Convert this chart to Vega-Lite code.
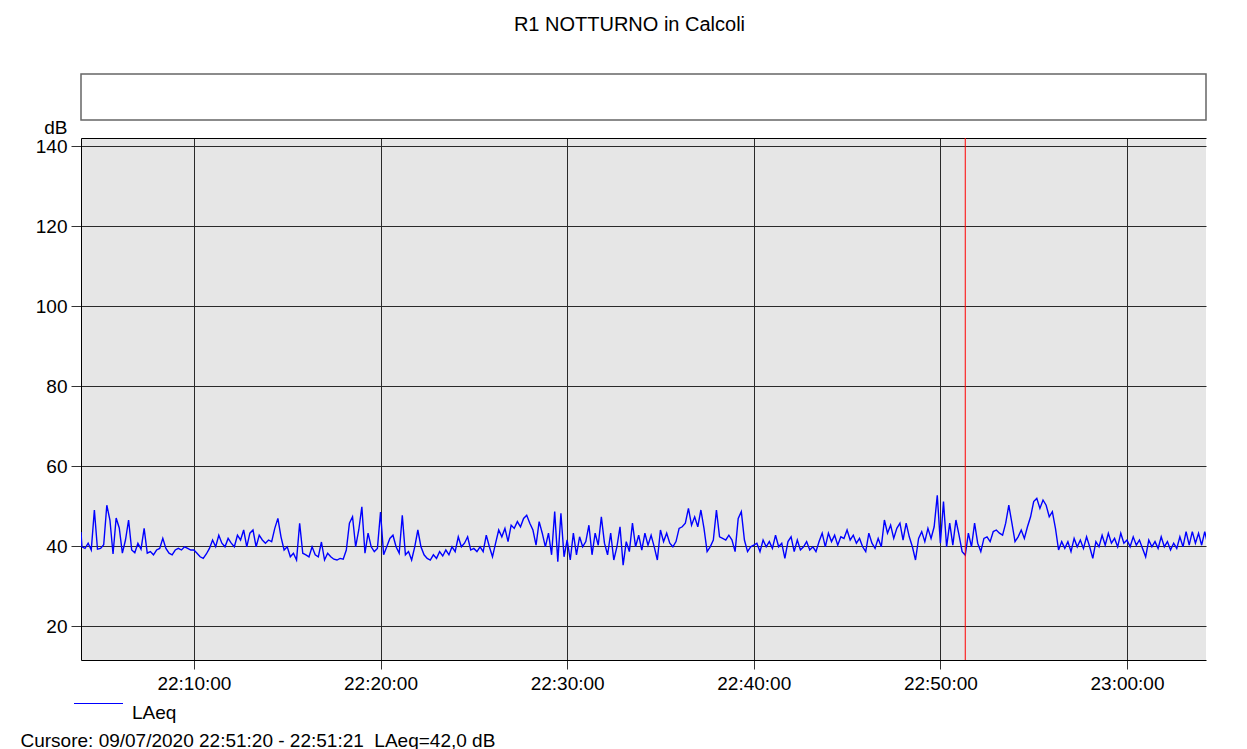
{
"$schema": "https://vega.github.io/schema/vega-lite/v6.json",
"padding": {"left": 20, "top": 14, "right": 0, "bottom": 10},
"background": "white",
"config": {
 "font": "Liberation Sans",
 "view": {"stroke": null},
 "legend": {"symbolStrokeColor": "#0000ff", "symbolBaseStrokeColor": "#0000ff"},
 "axis": {"labelFont": "Liberation Sans", "labelFontSize": 19, "labelColor": "#000", "titleFont": "Liberation Sans", "titleFontSize": 19, "titleFontWeight": "normal", "titleColor": "#000", "domainColor": "#000", "domainWidth": 1, "tickColor": "#333", "tickWidth": 1, "gridColor": "#2a2a2a", "gridOpacity": 1, "gridWidth": 1}
},
"spacing": 18,
"bounds": "flush",
"vconcat": [
 {
  "width": 1125, "height": 46,
  "title": {"text": "R1 NOTTURNO in Calcoli", "anchor": "middle", "offset": 23, "baseline": "alphabetic", "dx": -14, "font": "Liberation Sans", "fontSize": 20, "fontWeight": "normal", "color": "#000"},
  "view": {"stroke": "#666", "strokeWidth": 1.5, "fill": "white"},
  "data": {"values": [{"a": 1}]},
  "mark": {"type": "text", "text": " "},
  "encoding": {}
 },
 {
  "width": 1125, "height": 522,
  "view": {"fill": "#e6e6e6", "stroke": null},
  "resolve": {"axis": {"x": "independent"}},
  "layer": [
   {
    "data": {"values": [
{"t":"2020-07-09T22:03:57","v":43.5},{"t":"2020-07-09T22:04:00","v":39.8},{"t":"2020-07-09T22:04:10","v":39.4},{"t":"2020-07-09T22:04:20","v":40.7},{"t":"2020-07-09T22:04:30","v":39.0},{"t":"2020-07-09T22:04:40","v":49.0},{"t":"2020-07-09T22:04:50","v":39.2},
{"t":"2020-07-09T22:05:00","v":39.4},{"t":"2020-07-09T22:05:10","v":40.3},{"t":"2020-07-09T22:05:20","v":50.2},{"t":"2020-07-09T22:05:30","v":46.5},{"t":"2020-07-09T22:05:40","v":38.0},{"t":"2020-07-09T22:05:50","v":47.0},
{"t":"2020-07-09T22:06:00","v":44.5},{"t":"2020-07-09T22:06:10","v":38.2},{"t":"2020-07-09T22:06:20","v":41.5},{"t":"2020-07-09T22:06:30","v":46.5},{"t":"2020-07-09T22:06:40","v":39.0},{"t":"2020-07-09T22:06:50","v":38.3},
{"t":"2020-07-09T22:07:00","v":40.7},{"t":"2020-07-09T22:07:10","v":39.2},{"t":"2020-07-09T22:07:20","v":44.4},{"t":"2020-07-09T22:07:30","v":38.2},{"t":"2020-07-09T22:07:40","v":38.6},{"t":"2020-07-09T22:07:50","v":37.8},
{"t":"2020-07-09T22:08:00","v":39.0},{"t":"2020-07-09T22:08:10","v":39.4},{"t":"2020-07-09T22:08:20","v":41.9},{"t":"2020-07-09T22:08:30","v":39.4},{"t":"2020-07-09T22:08:40","v":38.2},{"t":"2020-07-09T22:08:50","v":37.8},
{"t":"2020-07-09T22:09:00","v":39.0},{"t":"2020-07-09T22:09:10","v":39.4},{"t":"2020-07-09T22:09:20","v":39.0},{"t":"2020-07-09T22:09:30","v":39.8},{"t":"2020-07-09T22:09:40","v":39.4},{"t":"2020-07-09T22:09:50","v":39.0},
{"t":"2020-07-09T22:10:00","v":39.0},{"t":"2020-07-09T22:10:10","v":38.2},{"t":"2020-07-09T22:10:20","v":37.3},{"t":"2020-07-09T22:10:30","v":36.9},{"t":"2020-07-09T22:10:40","v":38.0},{"t":"2020-07-09T22:10:50","v":39.4},
{"t":"2020-07-09T22:11:00","v":41.5},{"t":"2020-07-09T22:11:10","v":39.8},{"t":"2020-07-09T22:11:20","v":42.7},{"t":"2020-07-09T22:11:30","v":40.7},{"t":"2020-07-09T22:11:40","v":39.8},{"t":"2020-07-09T22:11:50","v":41.9},
{"t":"2020-07-09T22:12:00","v":40.7},{"t":"2020-07-09T22:12:10","v":39.8},{"t":"2020-07-09T22:12:20","v":42.7},{"t":"2020-07-09T22:12:30","v":41.5},{"t":"2020-07-09T22:12:40","v":44.0},{"t":"2020-07-09T22:12:50","v":39.8},
{"t":"2020-07-09T22:13:00","v":43.2},{"t":"2020-07-09T22:13:10","v":44.0},{"t":"2020-07-09T22:13:20","v":39.8},{"t":"2020-07-09T22:13:30","v":42.7},{"t":"2020-07-09T22:13:40","v":41.5},{"t":"2020-07-09T22:13:50","v":40.7},
{"t":"2020-07-09T22:14:00","v":41.5},{"t":"2020-07-09T22:14:10","v":41.1},{"t":"2020-07-09T22:14:20","v":44.4},{"t":"2020-07-09T22:14:30","v":46.9},{"t":"2020-07-09T22:14:40","v":42.3},{"t":"2020-07-09T22:14:50","v":39.0},
{"t":"2020-07-09T22:15:00","v":39.8},{"t":"2020-07-09T22:15:10","v":37.3},{"t":"2020-07-09T22:15:20","v":38.2},{"t":"2020-07-09T22:15:30","v":36.5},{"t":"2020-07-09T22:15:40","v":45.7},{"t":"2020-07-09T22:15:50","v":38.2},
{"t":"2020-07-09T22:16:00","v":37.8},{"t":"2020-07-09T22:16:10","v":37.3},{"t":"2020-07-09T22:16:20","v":39.8},{"t":"2020-07-09T22:16:30","v":37.8},{"t":"2020-07-09T22:16:40","v":37.3},{"t":"2020-07-09T22:16:50","v":41.0},
{"t":"2020-07-09T22:17:00","v":36.5},{"t":"2020-07-09T22:17:10","v":38.2},{"t":"2020-07-09T22:17:20","v":37.3},{"t":"2020-07-09T22:17:30","v":36.7},{"t":"2020-07-09T22:17:40","v":36.5},{"t":"2020-07-09T22:17:50","v":36.9},
{"t":"2020-07-09T22:18:00","v":36.7},{"t":"2020-07-09T22:18:10","v":39.0},{"t":"2020-07-09T22:18:20","v":45.7},{"t":"2020-07-09T22:18:30","v":47.3},{"t":"2020-07-09T22:18:40","v":39.8},{"t":"2020-07-09T22:18:50","v":44.0},
{"t":"2020-07-09T22:19:00","v":49.8},{"t":"2020-07-09T22:19:10","v":38.2},{"t":"2020-07-09T22:19:20","v":43.2},{"t":"2020-07-09T22:19:30","v":39.8},{"t":"2020-07-09T22:19:40","v":38.6},{"t":"2020-07-09T22:19:50","v":39.4},
{"t":"2020-07-09T22:20:00","v":48.5},{"t":"2020-07-09T22:20:10","v":37.8},{"t":"2020-07-09T22:20:20","v":39.8},{"t":"2020-07-09T22:20:30","v":41.9},{"t":"2020-07-09T22:20:40","v":42.7},{"t":"2020-07-09T22:20:50","v":39.8},
{"t":"2020-07-09T22:21:00","v":38.2},{"t":"2020-07-09T22:21:10","v":47.7},{"t":"2020-07-09T22:21:20","v":37.8},{"t":"2020-07-09T22:21:30","v":38.6},{"t":"2020-07-09T22:21:40","v":36.5},{"t":"2020-07-09T22:21:50","v":39.8},
{"t":"2020-07-09T22:22:00","v":44.0},{"t":"2020-07-09T22:22:10","v":39.8},{"t":"2020-07-09T22:22:20","v":37.8},{"t":"2020-07-09T22:22:30","v":36.9},{"t":"2020-07-09T22:22:40","v":36.5},{"t":"2020-07-09T22:22:50","v":37.8},
{"t":"2020-07-09T22:23:00","v":36.9},{"t":"2020-07-09T22:23:10","v":38.6},{"t":"2020-07-09T22:23:20","v":37.5},{"t":"2020-07-09T22:23:30","v":39.0},{"t":"2020-07-09T22:23:40","v":37.8},{"t":"2020-07-09T22:23:50","v":39.8},
{"t":"2020-07-09T22:24:00","v":38.6},{"t":"2020-07-09T22:24:10","v":42.3},{"t":"2020-07-09T22:24:20","v":39.8},{"t":"2020-07-09T22:24:30","v":40.7},{"t":"2020-07-09T22:24:40","v":42.3},{"t":"2020-07-09T22:24:50","v":39.0},
{"t":"2020-07-09T22:25:00","v":39.4},{"t":"2020-07-09T22:25:10","v":38.6},{"t":"2020-07-09T22:25:20","v":39.8},{"t":"2020-07-09T22:25:30","v":38.6},{"t":"2020-07-09T22:25:40","v":42.7},{"t":"2020-07-09T22:25:50","v":39.8},
{"t":"2020-07-09T22:26:00","v":37.3},{"t":"2020-07-09T22:26:10","v":40.7},{"t":"2020-07-09T22:26:20","v":44.0},{"t":"2020-07-09T22:26:30","v":42.3},{"t":"2020-07-09T22:26:40","v":44.4},{"t":"2020-07-09T22:26:50","v":41.1},
{"t":"2020-07-09T22:27:00","v":45.2},{"t":"2020-07-09T22:27:10","v":44.4},{"t":"2020-07-09T22:27:20","v":46.1},{"t":"2020-07-09T22:27:30","v":44.8},{"t":"2020-07-09T22:27:40","v":46.9},{"t":"2020-07-09T22:27:50","v":47.7},
{"t":"2020-07-09T22:28:00","v":45.7},{"t":"2020-07-09T22:28:10","v":44.0},{"t":"2020-07-09T22:28:20","v":40.2},{"t":"2020-07-09T22:28:30","v":46.1},{"t":"2020-07-09T22:28:40","v":43.2},{"t":"2020-07-09T22:28:50","v":39.8},
{"t":"2020-07-09T22:29:00","v":43.2},{"t":"2020-07-09T22:29:10","v":37.8},{"t":"2020-07-09T22:29:20","v":48.6},{"t":"2020-07-09T22:29:30","v":36.1},{"t":"2020-07-09T22:29:40","v":48.2},{"t":"2020-07-09T22:29:50","v":37.3},
{"t":"2020-07-09T22:30:00","v":41.5},{"t":"2020-07-09T22:30:10","v":36.5},{"t":"2020-07-09T22:30:20","v":43.2},{"t":"2020-07-09T22:30:30","v":37.8},{"t":"2020-07-09T22:30:40","v":42.3},{"t":"2020-07-09T22:30:50","v":39.8},
{"t":"2020-07-09T22:31:00","v":41.1},{"t":"2020-07-09T22:31:10","v":45.2},{"t":"2020-07-09T22:31:20","v":37.8},{"t":"2020-07-09T22:31:30","v":43.2},{"t":"2020-07-09T22:31:40","v":40.2},{"t":"2020-07-09T22:31:50","v":47.3},
{"t":"2020-07-09T22:32:00","v":40.7},{"t":"2020-07-09T22:32:10","v":37.8},{"t":"2020-07-09T22:32:20","v":43.2},{"t":"2020-07-09T22:32:30","v":36.5},{"t":"2020-07-09T22:32:40","v":39.8},{"t":"2020-07-09T22:32:50","v":44.8},
{"t":"2020-07-09T22:33:00","v":35.2},{"t":"2020-07-09T22:33:10","v":41.1},{"t":"2020-07-09T22:33:20","v":38.6},{"t":"2020-07-09T22:33:30","v":45.7},{"t":"2020-07-09T22:33:40","v":39.8},{"t":"2020-07-09T22:33:50","v":42.7},
{"t":"2020-07-09T22:34:00","v":39.0},{"t":"2020-07-09T22:34:10","v":43.2},{"t":"2020-07-09T22:34:20","v":40.2},{"t":"2020-07-09T22:34:30","v":42.7},{"t":"2020-07-09T22:34:40","v":39.8},{"t":"2020-07-09T22:34:50","v":36.5},
{"t":"2020-07-09T22:35:00","v":44.0},{"t":"2020-07-09T22:35:10","v":41.1},{"t":"2020-07-09T22:35:20","v":43.2},{"t":"2020-07-09T22:35:30","v":40.7},{"t":"2020-07-09T22:35:40","v":39.8},{"t":"2020-07-09T22:35:50","v":41.1},
{"t":"2020-07-09T22:36:00","v":44.4},{"t":"2020-07-09T22:36:10","v":44.8},{"t":"2020-07-09T22:36:20","v":45.7},{"t":"2020-07-09T22:36:30","v":49.4},{"t":"2020-07-09T22:36:40","v":45.2},{"t":"2020-07-09T22:36:50","v":47.3},
{"t":"2020-07-09T22:37:00","v":44.8},{"t":"2020-07-09T22:37:10","v":49.0},{"t":"2020-07-09T22:37:20","v":44.4},{"t":"2020-07-09T22:37:30","v":38.6},{"t":"2020-07-09T22:37:40","v":39.8},{"t":"2020-07-09T22:37:50","v":41.5},
{"t":"2020-07-09T22:38:00","v":49.0},{"t":"2020-07-09T22:38:10","v":42.3},{"t":"2020-07-09T22:38:20","v":41.9},{"t":"2020-07-09T22:38:30","v":41.5},{"t":"2020-07-09T22:38:40","v":42.7},{"t":"2020-07-09T22:38:50","v":41.5},
{"t":"2020-07-09T22:39:00","v":38.6},{"t":"2020-07-09T22:39:10","v":46.9},{"t":"2020-07-09T22:39:20","v":48.6},{"t":"2020-07-09T22:39:30","v":41.5},{"t":"2020-07-09T22:39:40","v":38.6},{"t":"2020-07-09T22:39:50","v":39.8},
{"t":"2020-07-09T22:40:00","v":40.2},{"t":"2020-07-09T22:40:10","v":40.7},{"t":"2020-07-09T22:40:20","v":38.6},{"t":"2020-07-09T22:40:30","v":41.5},{"t":"2020-07-09T22:40:40","v":39.8},{"t":"2020-07-09T22:40:50","v":41.1},
{"t":"2020-07-09T22:41:00","v":39.4},{"t":"2020-07-09T22:41:10","v":42.7},{"t":"2020-07-09T22:41:20","v":39.8},{"t":"2020-07-09T22:41:30","v":40.7},{"t":"2020-07-09T22:41:40","v":36.9},{"t":"2020-07-09T22:41:50","v":41.1},
{"t":"2020-07-09T22:42:00","v":42.3},{"t":"2020-07-09T22:42:10","v":38.6},{"t":"2020-07-09T22:42:20","v":41.5},{"t":"2020-07-09T22:42:30","v":39.0},{"t":"2020-07-09T22:42:40","v":39.8},{"t":"2020-07-09T22:42:50","v":41.1},
{"t":"2020-07-09T22:43:00","v":39.0},{"t":"2020-07-09T22:43:10","v":39.8},{"t":"2020-07-09T22:43:20","v":38.6},{"t":"2020-07-09T22:43:30","v":41.1},{"t":"2020-07-09T22:43:40","v":43.2},{"t":"2020-07-09T22:43:50","v":39.8},
{"t":"2020-07-09T22:44:00","v":43.2},{"t":"2020-07-09T22:44:10","v":41.1},{"t":"2020-07-09T22:44:20","v":42.7},{"t":"2020-07-09T22:44:30","v":40.2},{"t":"2020-07-09T22:44:40","v":42.3},{"t":"2020-07-09T22:44:50","v":41.9},
{"t":"2020-07-09T22:45:00","v":44.0},{"t":"2020-07-09T22:45:10","v":41.5},{"t":"2020-07-09T22:45:20","v":42.7},{"t":"2020-07-09T22:45:30","v":40.7},{"t":"2020-07-09T22:45:40","v":41.9},{"t":"2020-07-09T22:45:50","v":39.8},
{"t":"2020-07-09T22:46:00","v":38.6},{"t":"2020-07-09T22:46:10","v":43.2},{"t":"2020-07-09T22:46:20","v":40.7},{"t":"2020-07-09T22:46:30","v":39.4},{"t":"2020-07-09T22:46:40","v":41.9},{"t":"2020-07-09T22:46:50","v":39.8},
{"t":"2020-07-09T22:47:00","v":46.5},{"t":"2020-07-09T22:47:10","v":43.2},{"t":"2020-07-09T22:47:20","v":45.2},{"t":"2020-07-09T22:47:30","v":41.9},{"t":"2020-07-09T22:47:40","v":44.4},{"t":"2020-07-09T22:47:50","v":45.7},
{"t":"2020-07-09T22:48:00","v":41.5},{"t":"2020-07-09T22:48:10","v":45.7},{"t":"2020-07-09T22:48:20","v":42.3},{"t":"2020-07-09T22:48:30","v":39.8},{"t":"2020-07-09T22:48:40","v":36.5},{"t":"2020-07-09T22:48:50","v":41.9},
{"t":"2020-07-09T22:49:00","v":43.6},{"t":"2020-07-09T22:49:10","v":41.1},{"t":"2020-07-09T22:49:20","v":44.4},{"t":"2020-07-09T22:49:30","v":41.9},{"t":"2020-07-09T22:49:40","v":44.8},{"t":"2020-07-09T22:49:50","v":52.7},
{"t":"2020-07-09T22:50:00","v":40.7},{"t":"2020-07-09T22:50:10","v":51.1},{"t":"2020-07-09T22:50:20","v":39.8},{"t":"2020-07-09T22:50:30","v":45.7},{"t":"2020-07-09T22:50:40","v":40.2},{"t":"2020-07-09T22:50:50","v":46.5},
{"t":"2020-07-09T22:51:00","v":42.7},{"t":"2020-07-09T22:51:10","v":38.6},{"t":"2020-07-09T22:51:20","v":37.7},{"t":"2020-07-09T22:51:30","v":43.2},{"t":"2020-07-09T22:51:40","v":39.8},{"t":"2020-07-09T22:51:50","v":45.7},
{"t":"2020-07-09T22:52:00","v":40.7},{"t":"2020-07-09T22:52:10","v":38.6},{"t":"2020-07-09T22:52:20","v":41.9},{"t":"2020-07-09T22:52:30","v":42.3},{"t":"2020-07-09T22:52:40","v":41.1},{"t":"2020-07-09T22:52:50","v":43.6},
{"t":"2020-07-09T22:53:00","v":44.0},{"t":"2020-07-09T22:53:10","v":43.2},{"t":"2020-07-09T22:53:20","v":42.7},{"t":"2020-07-09T22:53:30","v":45.7},{"t":"2020-07-09T22:53:40","v":50.2},{"t":"2020-07-09T22:53:50","v":45.7},
{"t":"2020-07-09T22:54:00","v":41.1},{"t":"2020-07-09T22:54:10","v":42.3},{"t":"2020-07-09T22:54:20","v":44.0},{"t":"2020-07-09T22:54:30","v":41.9},{"t":"2020-07-09T22:54:40","v":44.8},{"t":"2020-07-09T22:54:50","v":47.3},
{"t":"2020-07-09T22:55:00","v":51.1},{"t":"2020-07-09T22:55:10","v":51.9},{"t":"2020-07-09T22:55:20","v":49.4},{"t":"2020-07-09T22:55:30","v":51.5},{"t":"2020-07-09T22:55:40","v":50.2},{"t":"2020-07-09T22:55:50","v":47.3},
{"t":"2020-07-09T22:56:00","v":48.6},{"t":"2020-07-09T22:56:10","v":44.4},{"t":"2020-07-09T22:56:20","v":39.0},{"t":"2020-07-09T22:56:30","v":41.1},{"t":"2020-07-09T22:56:40","v":39.4},{"t":"2020-07-09T22:56:50","v":41.1},
{"t":"2020-07-09T22:57:00","v":38.6},{"t":"2020-07-09T22:57:10","v":41.9},{"t":"2020-07-09T22:57:20","v":39.8},{"t":"2020-07-09T22:57:30","v":41.5},{"t":"2020-07-09T22:57:40","v":39.4},{"t":"2020-07-09T22:57:50","v":42.3},
{"t":"2020-07-09T22:58:00","v":39.8},{"t":"2020-07-09T22:58:10","v":36.9},{"t":"2020-07-09T22:58:20","v":41.1},{"t":"2020-07-09T22:58:30","v":39.8},{"t":"2020-07-09T22:58:40","v":42.7},{"t":"2020-07-09T22:58:50","v":40.2},
{"t":"2020-07-09T22:59:00","v":43.2},{"t":"2020-07-09T22:59:10","v":40.7},{"t":"2020-07-09T22:59:20","v":41.9},{"t":"2020-07-09T22:59:30","v":39.8},{"t":"2020-07-09T22:59:40","v":43.2},{"t":"2020-07-09T22:59:50","v":40.7},
{"t":"2020-07-09T23:00:00","v":41.5},{"t":"2020-07-09T23:00:10","v":39.8},{"t":"2020-07-09T23:00:20","v":42.3},{"t":"2020-07-09T23:00:30","v":40.2},{"t":"2020-07-09T23:00:40","v":41.5},{"t":"2020-07-09T23:00:50","v":39.4},
{"t":"2020-07-09T23:01:00","v":37.3},{"t":"2020-07-09T23:01:10","v":41.5},{"t":"2020-07-09T23:01:20","v":39.8},{"t":"2020-07-09T23:01:30","v":41.1},{"t":"2020-07-09T23:01:40","v":39.4},{"t":"2020-07-09T23:01:50","v":42.3},
{"t":"2020-07-09T23:02:00","v":39.8},{"t":"2020-07-09T23:02:10","v":41.1},{"t":"2020-07-09T23:02:20","v":39.0},{"t":"2020-07-09T23:02:30","v":40.7},{"t":"2020-07-09T23:02:40","v":39.4},{"t":"2020-07-09T23:02:50","v":42.3},
{"t":"2020-07-09T23:03:00","v":39.8},{"t":"2020-07-09T23:03:10","v":43.6},{"t":"2020-07-09T23:03:20","v":40.2},{"t":"2020-07-09T23:03:30","v":43.6},{"t":"2020-07-09T23:03:40","v":40.7},{"t":"2020-07-09T23:03:50","v":43.2},
{"t":"2020-07-09T23:04:00","v":40.2},{"t":"2020-07-09T23:04:10","v":43.6},{"t":"2020-07-09T23:04:20","v":40.2}
    ]},
    "mark": {"type": "line", "strokeWidth": 1.4, "clip": true, "color": "#0000ff"},
    "encoding": {
     "x": {"field": "t", "type": "temporal",
       "scale": {"domain": [{"year": 2020, "month": 7, "date": 9, "hours": 22, "minutes": 3, "seconds": 57}, {"year": 2020, "month": 7, "date": 9, "hours": 23, "minutes": 4, "seconds": 14}]},
       "axis": {"format": "%H:%M:%S", "values": [{"year": 2020, "month": 7, "date": 9, "hours": 22, "minutes": 10}, {"year": 2020, "month": 7, "date": 9, "hours": 22, "minutes": 20}, {"year": 2020, "month": 7, "date": 9, "hours": 22, "minutes": 30}, {"year": 2020, "month": 7, "date": 9, "hours": 22, "minutes": 40}, {"year": 2020, "month": 7, "date": 9, "hours": 22, "minutes": 50}, {"year": 2020, "month": 7, "date": 9, "hours": 23, "minutes": 0}], "grid": true, "tickSize": 9, "labelPadding": 5, "labelFlush": false, "labelOverlap": false, "domain": true,
         "title": "Cursore: 09/07/2020 22:51:20 - 22:51:21\u00a0 LAeq=42,0 dB", "titleX": -61, "titleY": 86, "titleAlign": "left", "titleAnchor": "start", "titleBaseline": "alphabetic"}},
     "y": {"field": "v", "type": "quantitative",
       "scale": {"domain": [11.5, 142], "nice": false, "zero": false},
       "axis": {"values": [20, 40, 60, 80, 100, 120, 140], "tickSize": 10, "labelPadding": 4, "grid": true, "domain": true,
         "title": "dB", "titleAngle": 0, "titleX": -14, "titleY": -5, "titleAlign": "right", "titleBaseline": "alphabetic"}},
     "stroke": {"datum": "LAeq", "scale": {"range": ["#0000ff"]},
       "legend": {"orient": "none", "legendX": -8, "legendY": 604, "title": null, "symbolType": "stroke", "symbolSize": 2401, "symbolStrokeWidth": 1.2, "symbolStrokeColor": "#0000ff", "labelFont": "Liberation Sans", "labelFontSize": 19, "labelColor": "#000", "labelBaseline": "top", "padding": 0, "labelOffset": 8,
         "encode": {"symbols": {"enter": {"stroke": {"value": "#0000ff"}}, "update": {"stroke": {"value": "#0000ff"}, "strokeOpacity": {"value": 1}}}}}}
    }
   },
   {
    "data": {"values": [{"t": "2020-07-09T22:51:20"}]},
    "mark": {"type": "rule", "color": "#ff0000", "strokeWidth": 1},
    "encoding": {"x": {"field": "t", "type": "temporal", "axis": {"orient": "top", "labels": false, "ticks": false, "grid": false, "domain": true, "title": null}}}
   }
  ]
 }
]
}
